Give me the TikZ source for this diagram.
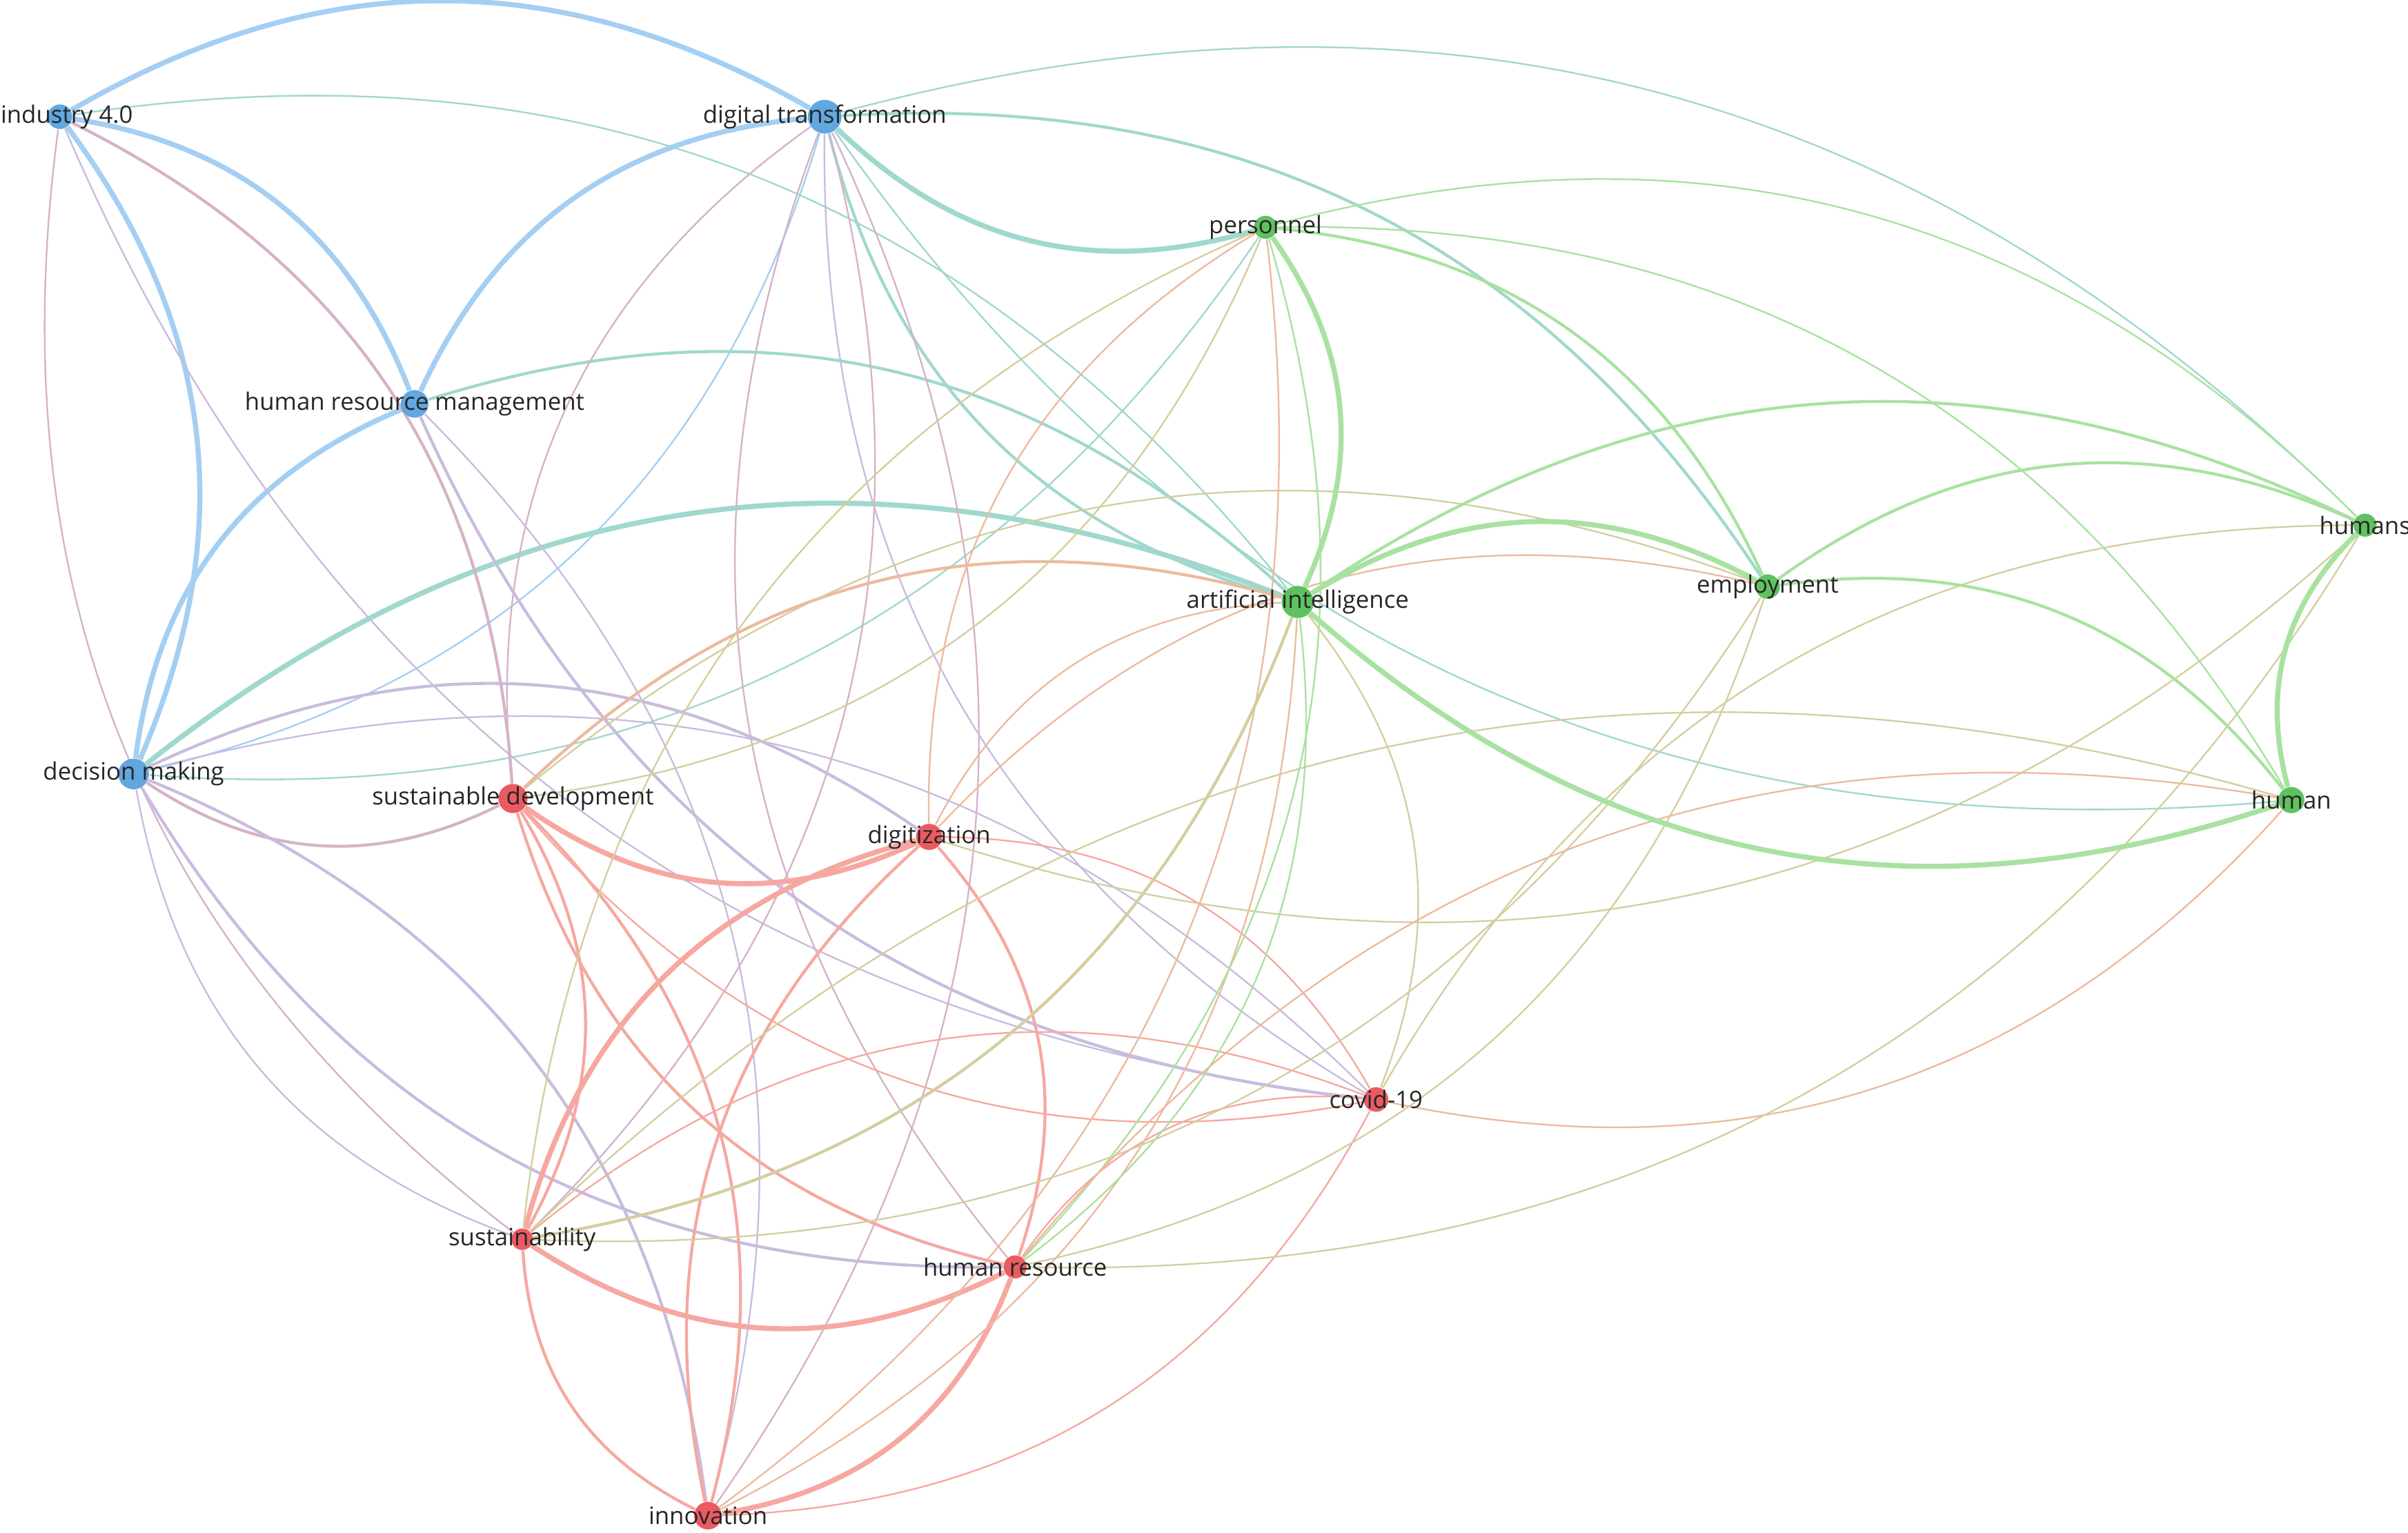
\documentclass[tikz,border=0pt]{standalone}
\usepackage{fontspec}
\setmainfont{Open Sans}
\pgfdeclarelayer{background}
\pgfsetlayers{background,main}
\definecolor{nblue}{RGB}{88,162,222}
\definecolor{ngreen}{RGB}{86,190,86}
\definecolor{nred}{RGB}{232,82,88}
\definecolor{eblue}{RGB}{164,207,243}
\definecolor{eteal}{RGB}{160,216,205}
\definecolor{egreen}{RGB}{168,226,160}
\definecolor{ered}{RGB}{246,168,160}
\definecolor{elav}{RGB}{200,188,222}
\definecolor{emauve}{RGB}{214,178,200}
\definecolor{eolive}{RGB}{212,206,160}
\definecolor{eorange}{RGB}{236,186,158}
\tikzset{
  kw/.style={circle,inner sep=0pt,fill opacity=0.95,
    label={[font=\fontsize{8.9}{10}\selectfont,text=black!85,inner sep=0pt]center:#1}},
  bkw/.style={kw=#1,fill=nblue},
  gkw/.style={kw=#1,fill=ngreen},
  rkw/.style={kw=#1,fill=nred},
  fine/.style={line width=0.6pt},
  medium/.style={line width=1.1pt},
  heavy/.style={line width=1.9pt}
}
\begin{document}
\begin{tikzpicture}[x=0.02cm,y=0.02cm,line cap=round]
\useasboundingbox (0,0) rectangle (1568,-998);
\node[circle,inner sep=0pt,fill opacity=0.95,fill=nblue,minimum size=0.32cm,
  label={[font=\fontsize{8.9}{10}\selectfont,text=black!85,inner sep=0pt,xshift=0.09cm]center:industry 4.0}] (ind) at (39,-76) {};
\node[bkw={digital transformation},minimum size=0.44cm] (digtr) at (537,-76) {};
\node[bkw={human resource management},minimum size=0.36cm] (hrm) at (270,-263) {};
\node[bkw={decision making},minimum size=0.40cm] (decmk) at (87,-504) {};
\node[gkw={personnel},minimum size=0.30cm] (pers) at (824,-148) {};
\node[gkw={artificial intelligence},minimum size=0.42cm] (artint) at (845,-392) {};
\node[gkw={employment},minimum size=0.32cm] (employ) at (1151,-382) {};
\node[gkw={humans},minimum size=0.30cm] (humans) at (1540,-342) {};
\node[gkw={human},minimum size=0.34cm] (human) at (1492,-521) {};
\node[rkw={sustainable development},minimum size=0.38cm] (susdev) at (334,-520) {};
\node[rkw={digitization},minimum size=0.34cm] (digit) at (605,-545) {};
\node[rkw={covid-19},minimum size=0.32cm] (covid) at (896,-716) {};
\node[rkw={sustainability},minimum size=0.28cm] (sustain) at (340,-807) {};
\node[rkw={human resource},minimum size=0.30cm] (humres) at (661,-825) {};
\node[rkw={innovation},minimum size=0.36cm] (innov) at (461,-987) {};
\begin{pgfonlayer}{background}
\draw[eblue,heavy] (ind) to[bend left] (digtr);
\draw[eblue,heavy] (ind) to[bend left] (hrm);
\draw[eblue,heavy] (ind) to[bend left] (decmk);
\draw[eblue,heavy] (digtr) to[bend right] (hrm);
\draw[eblue,fine] (digtr) to[bend left] (decmk);
\draw[eblue,heavy] (hrm) to[bend right] (decmk);
\draw[eteal,fine] (ind) to[bend left] (artint);
\draw[eteal,heavy] (digtr) to[bend right] (pers);
\draw[eteal,medium] (digtr) to[bend left] (employ);
\draw[eteal,fine] (digtr) to[bend left] (humans);
\draw[eteal,medium] (digtr) to[bend right] (artint);
\draw[eteal,fine] (digtr) to[bend right] (human);
\draw[eteal,medium] (hrm) to[bend left] (artint);
\draw[eteal,heavy] (decmk) to[bend left] (artint);
\draw[eteal,fine] (decmk) to[bend right] (pers);
\draw[emauve,medium] (ind) to[bend left] (susdev);
\draw[emauve,fine] (ind) to[bend right] (sustain);
\draw[elav,fine] (ind) to[bend right] (covid);
\draw[emauve,fine] (digtr) to[bend right] (susdev);
\draw[emauve,fine] (digtr) to[bend right] (humres);
\draw[emauve,fine] (digtr) to[bend left] (innov);
\draw[elav,fine] (digtr) to[bend right] (covid);
\draw[emauve,fine] (digtr) to[bend left] (sustain);
\draw[elav,medium] (hrm) to[bend right] (covid);
\draw[elav,fine] (hrm) to[bend left] (innov);
\draw[elav,medium] (decmk) to[bend left] (digit);
\draw[elav,fine] (decmk) to[bend left] (covid);
\draw[emauve,medium] (decmk) to[bend right] (susdev);
\draw[elav,fine] (decmk) to[bend right] (sustain);
\draw[elav,medium] (decmk) to[bend right] (humres);
\draw[elav,medium] (decmk) to[bend left] (innov);
\draw[ered,heavy] (susdev) to[bend right] (digit);
\draw[ered,medium] (susdev) to[bend left] (sustain);
\draw[ered,medium] (susdev) to[bend left] (innov);
\draw[ered,medium] (susdev) to[bend right] (humres);
\draw[ered,fine] (susdev) to[bend right] (covid);
\draw[ered,heavy] (digit) to[bend right] (sustain);
\draw[ered,medium] (digit) to[bend left] (humres);
\draw[ered,medium] (digit) to[bend right] (innov);
\draw[ered,fine] (digit) to[bend left] (covid);
\draw[ered,fine] (covid) to[bend right] (sustain);
\draw[ered,fine] (covid) to[bend right] (humres);
\draw[ered,fine] (covid) to[bend left] (innov);
\draw[ered,heavy] (sustain) to[bend right] (humres);
\draw[ered,medium] (sustain) to[bend right] (innov);
\draw[ered,heavy] (humres) to[bend left] (innov);
\draw[eorange,medium] (susdev) to[bend left] (artint);
\draw[eolive,fine] (susdev) to[bend left] (employ);
\draw[eolive,fine] (susdev) to[bend right] (pers);
\draw[eorange,fine] (digit) to[bend left] (artint);
\draw[eorange,fine] (digit) to[bend left] (employ);
\draw[eorange,fine] (digit) to[bend left] (pers);
\draw[eolive,fine] (digit) to[bend right] (humans);
\draw[eolive,fine] (covid) to[bend right] (artint);
\draw[eorange,fine] (covid) to[bend right] (human);
\draw[eorange,fine] (innov) to[bend right] (pers);
\draw[eorange,fine] (innov) to[bend right] (artint);
\draw[eolive,medium] (artint) to[bend left] (sustain);
\draw[egreen,fine] (artint) to[bend left] (humres);
\draw[egreen,fine] (pers) to[bend left] (humres);
\draw[eolive,fine] (pers) to[bend right] (sustain);
\draw[eolive,fine] (employ) to[bend left] (sustain);
\draw[eolive,fine] (employ) to[bend left] (humres);
\draw[eolive,fine] (sustain) to[bend left] (human);
\draw[eorange,fine] (humres) to[bend left] (human);
\draw[eolive,fine] (humans) to[bend right] (covid);
\draw[eolive,fine] (humans) to[bend left] (humres);
\draw[egreen,heavy] (pers) to[bend left] (artint);
\draw[egreen,medium] (pers) to[bend left] (employ);
\draw[egreen,fine] (pers) to[bend left] (humans);
\draw[egreen,fine] (pers) to[bend left] (human);
\draw[egreen,heavy] (artint) to[bend left] (employ);
\draw[egreen,medium] (artint) to[bend left] (humans);
\draw[egreen,heavy] (artint) to[bend right] (human);
\draw[egreen,medium] (employ) to[bend left] (humans);
\draw[egreen,medium] (employ) to[bend left] (human);
\draw[egreen,heavy] (humans) to[bend right] (human);
\end{pgfonlayer}
\end{tikzpicture}
\end{document}
